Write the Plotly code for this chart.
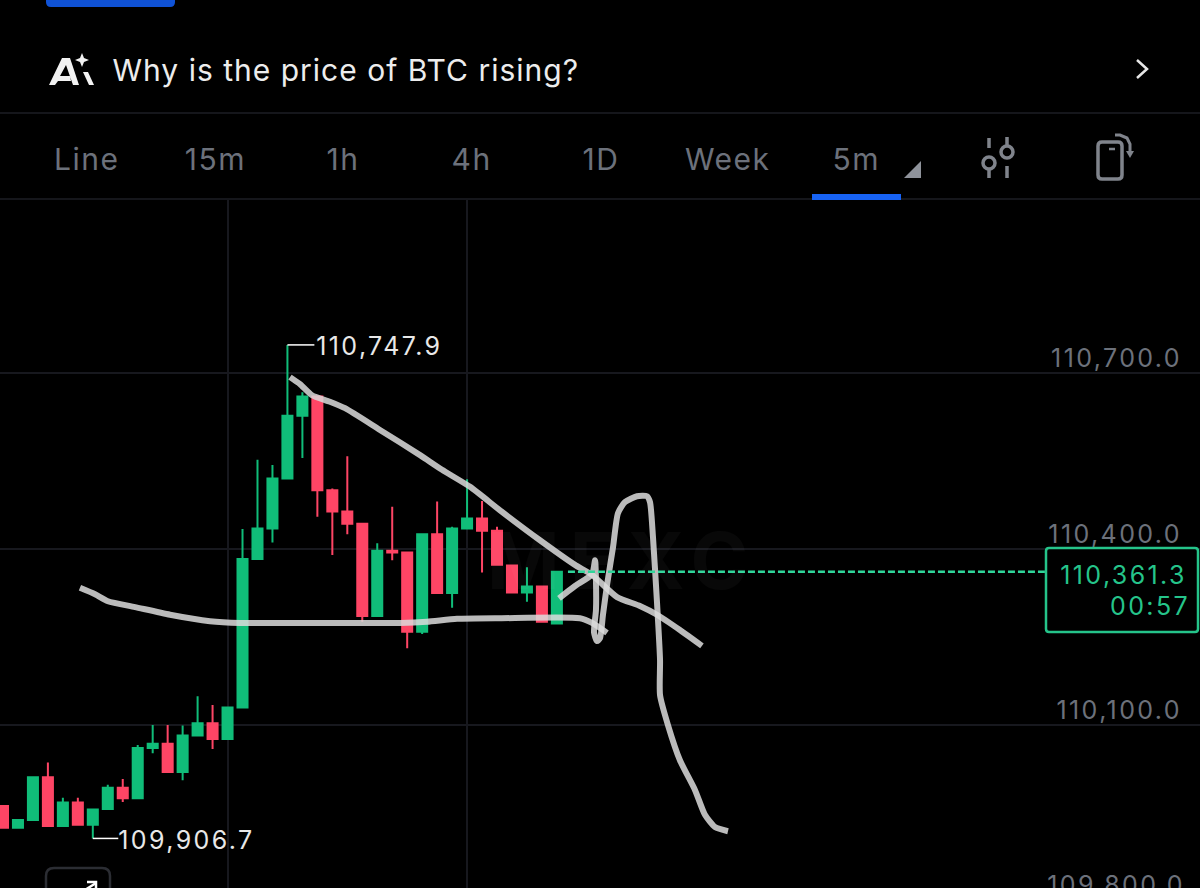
import plotly.graph_objects as go

# candle values, oldest first
opens = [109962, 109925, 109938, 110011, 109928, 109968, 109930, 109957, 109993, 109975,
         110061, 110068, 110020, 110082, 110103, 110076, 110130, 110383, 110435, 110520,
         110627, 110660, 110500, 110464, 110443, 110286, 110397, 110394, 110259, 110425,
         110325, 110435, 110452, 110431, 110372, 110326, 110336, 110273]
highs = [109962, 109938, 110011, 110036, 109976, 109976, 109956, 109998, 110008, 110066,
         110100, 110100, 110099, 110149, 110134, 110131, 110434, 110552, 110543, 110747.9,
         110667, 110660, 110503, 110558, 110443, 110410, 110472, 110394, 110425, 110481,
         110438, 110519, 110482, 110438, 110372, 110369, 110336, 110361.3]
lows = [109924, 109923, 109938, 109928, 109928, 109930, 109906.7, 109957, 109969, 109975,
        110052, 110020, 110006, 110082, 110059, 110076, 110130, 110383, 110411, 110520,
        110555, 110455, 110390, 110425, 110276, 110286, 110381, 110231, 110255, 110325,
        110300, 110435, 110360, 110373, 110326, 110310, 110276, 110273]
closes = [109925, 109938, 110011, 109928, 109968, 109930, 109956, 109993, 109975, 110061,
          110068, 110020, 110082, 110103, 110076, 110130, 110383, 110435, 110520, 110627,
          110660, 110500, 110464, 110443, 110286, 110397, 110394, 110259, 110425, 110325,
          110435, 110452, 110431, 110373, 110326, 110336, 110276, 110361.3]

last_price = 110361.3
high_price = 110747.9
low_price = 109906.7
high_idx = 19
low_idx = 6

price_ticks = [110100, 110400, 110700]
price_labels = ["110,100.0", "110,400.0", "110,700.0"]
time_grid = [15, 31]
tabs = ["Line", "15m", "1h", "4h", "1D", "Week", "5m"]

# hand drawn strokes over the chart, candle index / price
trend_x = [19.17, 19.84, 20.64, 21.84, 22.85, 25.18, 27.86, 29.33, 31.2, 33.2, 35.87,
           38.21, 39.35, 41.02, 42.55, 43.69, 45.22, 46.69]
trend_y = [110693, 110681, 110662, 110651, 110640, 110603, 110560, 110535, 110506, 110466,
           110415, 110373, 110356, 110318, 110303, 110288, 110262, 110235]
base_x = [5.14, 6.15, 7.01, 8.82, 11.16, 13.83, 15.83, 19.84, 23.85, 26.52, 28.32, 30.33,
          33.2, 38.54, 39.35, 40.35]
base_y = [110334, 110323, 110311, 110301, 110288, 110277, 110274, 110274, 110274, 110274,
          110276, 110281, 110282, 110282, 110274, 110257]
path_x = [37.14, 38.21, 39.35, 39.55, 39.61, 39.61, 39.48, 39.68, 39.88, 40.08, 40.35,
          40.75, 41.08, 41.55, 42.35, 43.02, 43.22, 43.42, 43.69, 43.89, 43.89, 44.42,
          45.22, 46.23, 46.89, 47.56, 48.43]
path_y = [110316, 110337, 110357, 110381, 110347, 110296, 110258, 110243, 110248, 110288,
          110339, 110403, 110461, 110480, 110490, 110490, 110480, 110420, 110308, 110211,
          110151, 110100, 110040, 109989, 109947, 109926, 109919]

GREEN = "#10bd79"
RED = "#fe4565"
GREY = "#6c717b"
ICON = "#80848c"
LINE = "#17181e"
BOX = "#25c48a"
W, H = 1200, 888


def fx(p):
    return p / W


def fy(p):
    return 1 - p / H


def label(text, x, y, size=30, color=GREY):
    return dict(text=text, x=fx(x), y=fy(y), xref="paper", yref="paper", showarrow=False,
                xanchor="center", yanchor="middle", font=dict(family="Inter", size=size, color=color))


# svg path from pixel points, Q entries take a control point and an end point
def svg(*steps, close=False):
    out = []
    for cmd, *v in steps:
        pairs = [f"{fx(v[i])},{fy(v[i + 1])}" for i in range(0, len(v), 2)]
        out.append(cmd + " ".join(pairs))
    if close:
        out.append("Z")
    return " ".join(out)


def outline(*steps, color=ICON, width=3, fill=None, close=False):
    return dict(type="path", path=svg(*steps, close=close), xref="paper", yref="paper",
                line=dict(color=color, width=width), fillcolor=fill)


def rounded(x0, y0, x1, y1, r, color=ICON, width=3, fill=None):
    return outline(("M", x0 + r, y0), ("L", x1 - r, y0), ("Q", x1, y0, x1, y0 + r),
                   ("L", x1, y1 - r), ("Q", x1, y1, x1 - r, y1), ("L", x0 + r, y1),
                   ("Q", x0, y1, x0, y1 - r), ("L", x0, y0 + r), ("Q", x0, y0, x0 + r, y0),
                   color=color, width=width, fill=fill, close=True)


fig = go.Figure()

fig.add_trace(go.Candlestick(
    x=list(range(len(opens))), open=opens, high=highs, low=lows, close=closes,
    increasing=dict(line=dict(color=GREEN, width=2), fillcolor=GREEN),
    decreasing=dict(line=dict(color=RED, width=2), fillcolor=RED),
    whiskerwidth=0, showlegend=False,
))

# leaders to the high and low labels
fig.add_trace(go.Scatter(x=[high_idx, high_idx + 1.8], y=[high_price, high_price], mode="lines",
                         line=dict(color="#ffffff", width=1.5), showlegend=False))
fig.add_trace(go.Scatter(x=[low_idx, low_idx + 1.7], y=[low_price, low_price], mode="lines",
                         line=dict(color="#ffffff", width=1.5), showlegend=False))

for sx, sy in [(base_x, base_y), (trend_x, trend_y), (path_x, path_y)]:
    fig.add_trace(go.Scatter(x=sx, y=sy, mode="lines", opacity=0.85, showlegend=False,
                             line=dict(color="#dcdcdc", width=6, shape="spline", smoothing=0.6)))

shapes = [
    # separators
    dict(type="line", xref="paper", yref="paper", x0=0, x1=1, y0=fy(113), y1=fy(113), line=dict(color="#1c1e25", width=1.5)),
    dict(type="line", xref="paper", yref="paper", x0=0, x1=1, y0=fy(199), y1=fy(199), line=dict(color="#1c1e25", width=1.5)),
    # last price line
    dict(type="line", xref="x", yref="y", x0=37.74, x1=69.6, y0=last_price, y1=last_price,
         line=dict(color="#2fd69a", width=2.5, dash="7px 3px")),
    rounded(46, -8, 175, 7, 5, width=0, fill="#0f52d6"),
    # tab underline
    dict(type="rect", xref="paper", yref="paper", x0=fx(812), x1=fx(901), y0=fy(200), y1=fy(194),
         line=dict(width=0), fillcolor="#1763f4"),
    outline(("M", 904, 178), ("L", 921, 178), ("L", 921, 161), color="#8f939b", width=0, fill="#8f939b", close=True),
    # chevron
    outline(("M", 1137, 60), ("L", 1147, 69), ("L", 1137, 78), color="#e6e6e6", width=2.5),
    # ai icon
    outline(("M", 49, 85), ("L", 62, 58), ("L", 70, 58), ("L", 79, 85), ("L", 73, 85), ("L", 66, 65), ("L", 60, 76),
            ("L", 70, 76), ("L", 71, 81), ("L", 58, 81), ("L", 55, 85), color="#f2f2f2", width=0, fill="#f2f2f2", close=True),
    outline(("M", 82, 53), ("L", 84, 58), ("L", 89, 60), ("L", 84, 62), ("L", 82, 67), ("L", 80, 62), ("L", 75, 60),
            ("L", 80, 58), color="#f2f2f2", width=0, fill="#f2f2f2", close=True),
    outline(("M", 83, 72), ("L", 88, 72), ("L", 94, 85), ("L", 89, 85), color="#f2f2f2", width=0, fill="#f2f2f2", close=True),
    # filter icon
    outline(("M", 989, 138), ("L", 989, 148), width=3.5),
    outline(("M", 989, 169), ("L", 989, 178), width=3.5),
    outline(("M", 1007, 137), ("L", 1007, 146), width=3.5),
    outline(("M", 1007, 166), ("L", 1007, 178), width=3.5),
    dict(type="circle", xref="paper", yref="paper", x0=fx(983), x1=fx(995), y0=fy(169), y1=fy(157), line=dict(color=ICON, width=3.5)),
    dict(type="circle", xref="paper", yref="paper", x0=fx(1001), x1=fx(1013), y0=fy(158), y1=fy(146), line=dict(color=ICON, width=3.5)),
    # phone icon
    rounded(1098, 142, 1122, 179, 4, width=3.5),
    outline(("M", 1109, 149), ("L", 1115, 149), width=2.5),
    outline(("M", 1115, 135), ("L", 1120, 135), ("L", 1127, 138), ("L", 1130, 144), ("L", 1130, 152)),
    outline(("M", 1126, 151), ("L", 1134, 151), ("L", 1130, 158), width=0, fill=ICON, close=True),
    # price box
    rounded(1046, 548, 1198, 632, 3, color=BOX, width=2.5, fill="#000000"),
    # bottom button
    rounded(46, 868, 110, 900, 8, color="#2b2d33", width=2.5),
    outline(("M", 85, 890), ("L", 96, 883), color="#ffffff", width=2.5),
    outline(("M", 87, 882), ("L", 96, 882), ("L", 96, 890), color="#ffffff", width=2.5),
]

annotations = [
    label("Why is the price of BTC rising?", 345.5, 70, size=30, color="#ededed"),
    label("110,747.9", 379, 346, size=25, color="#e8e8e8"),
    label("109,906.7", 186, 840, size=25, color="#e8e8e8"),
    label("110,361.3", 1123.5, 575, size=25, color=BOX),
    label("00:57", 1150, 606, size=25, color=BOX),
    label("109,800.0", 1116, 885, size=25, color=GREY),
    dict(text="<b>MEXC</b>", x=fx(622), y=fy(560), xref="paper", yref="paper", showarrow=False,
         font=dict(family="Inter", size=78, color="rgba(255,255,255,0.03)")),
]
for name, x in zip(tabs, [86, 215, 343, 471, 601, 728, 857]):
    annotations.append(label(name, x, 159, size=30))

fig.update_layout(
    width=W, height=H, margin=dict(l=0, r=0, t=0, b=0),
    paper_bgcolor="#000000", plot_bgcolor="#000000",
    showlegend=False, boxgap=0.33, boxgroupgap=0, shapes=shapes, annotations=annotations,
    xaxis=dict(range=[-0.2, 79.96], domain=[0, 1], rangeslider=dict(visible=False),
               tickvals=time_grid, showticklabels=False, showgrid=True, gridcolor=LINE, gridwidth=1.5,
               zeroline=False, showline=False, ticks=""),
    yaxis=dict(range=[109822.2, 110994.9], domain=[0, 688 / 888], side="right",
               tickvals=price_ticks, ticktext=price_labels, ticklabelposition="inside top",
               ticklabelstandoff=15, ticklabelshift=3, tickfont=dict(family="Inter", size=25, color=GREY),
               showgrid=True, gridcolor=LINE, gridwidth=1.5, zeroline=False, showline=False, ticks=""),
)

# the app font is tracked wider than Inter, plotly has no letter spacing setting
spacing_js = """
function track() {
  document.querySelectorAll('.annotation-text').forEach(function (t) {
    var s = t.textContent;
    var ls = s === 'MEXC' ? 10 : s.indexOf('Why') === 0 ? 1 : s.indexOf(',') > 0 || s === '00:57' ? 2.4 : 1.5;
    t.style.letterSpacing = ls + 'px';
  });
  document.querySelectorAll('.ytick text').forEach(function (t) { t.style.letterSpacing = '2.4px'; });
}
document.body.style.margin = '0';
track();
setTimeout(track, 50);
"""
fig.write_html("out.html", config=dict(displayModeBar=False), post_script=spacing_js)
